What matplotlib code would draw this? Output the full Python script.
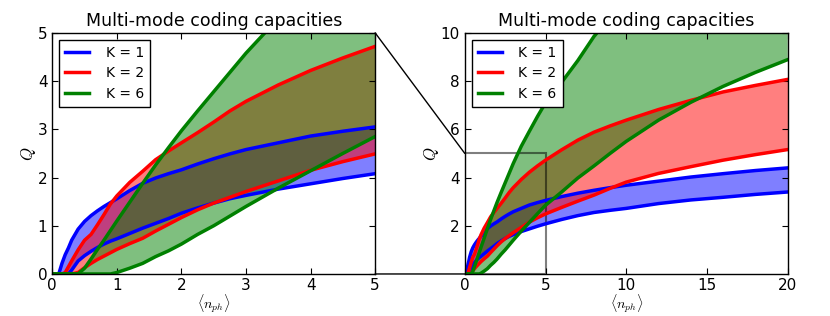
import matplotlib; matplotlib.use('Agg')
import matplotlib.pyplot as plt
from matplotlib.patches import Rectangle, ConnectionPatch

plt.rcParams.update({
    'font.family': 'DejaVu Sans', 'font.size': 11, 'mathtext.fontset': 'cm',
    'xtick.direction': 'in', 'ytick.direction': 'in',
    'xtick.top': True, 'ytick.right': True,
    'xtick.major.size': 4, 'ytick.major.size': 4,
    'xtick.major.pad': 3,
    'xtick.labelsize': 11, 'ytick.labelsize': 11,
    'axes.linewidth': 1.0,
})

# mean photon number grid
n_ph = [0, 0.1, 0.15, 0.2, 0.25, 0.3, 0.4, 0.5, 0.6, 0.7, 0.8, 0.9, 1.0, 1.2, 1.4, 1.6,
        1.8, 2.0, 2.25, 2.5, 2.75, 3.0, 3.5, 4.0, 4.5, 5.0, 6, 7, 8, 9, 10, 12, 14, 16, 18, 20]

# K = 1 bounds
k1_hi = [0, 0, 0.22, 0.40, 0.54, 0.70, 0.93, 1.09, 1.21, 1.31, 1.40, 1.48, 1.56, 1.73, 1.88, 1.99,
         2.08, 2.16, 2.28, 2.39, 2.49, 2.58, 2.72, 2.86, 2.96, 3.05, 3.21, 3.35, 3.47, 3.58, 3.68,
         3.85, 4.02, 4.16, 4.29, 4.40]
k1_lo = [0, 0, 0, 0, 0, 0.08, 0.27, 0.38, 0.47, 0.55, 0.62, 0.68, 0.73, 0.84, 0.95, 1.05,
         1.15, 1.26, 1.37, 1.47, 1.56, 1.63, 1.76, 1.87, 1.98, 2.08, 2.26, 2.42, 2.55, 2.64, 2.72,
         2.92, 3.07, 3.18, 3.30, 3.40]
# K = 2 bounds
k2_hi = [0, 0, 0, 0.03, 0.15, 0.27, 0.50, 0.70, 0.82, 1.02, 1.23, 1.45, 1.62, 1.90, 2.13, 2.37,
         2.55, 2.72, 2.93, 3.15, 3.38, 3.58, 3.92, 4.22, 4.48, 4.72, 5.15, 5.55, 5.88, 6.14, 6.38,
         6.82, 7.20, 7.55, 7.82, 8.07]
k2_lo = [0, 0, 0, 0, 0, 0, 0.03, 0.13, 0.22, 0.30, 0.37, 0.44, 0.51, 0.63, 0.74, 0.89,
         1.03, 1.17, 1.33, 1.47, 1.59, 1.71, 1.93, 2.15, 2.33, 2.49, 2.76, 3.02, 3.27, 3.55, 3.81,
         4.17, 4.45, 4.72, 4.95, 5.16]
# K = 6 bounds
k6_hi = [0, 0, 0, 0, 0, 0, 0, 0.12, 0.31, 0.51, 0.70, 0.90, 1.10, 1.49, 1.88, 2.26,
         2.62, 2.97, 3.38, 3.78, 4.18, 4.58, 5.30, 5.92, 6.53, 7.10, 7.95, 8.85, 9.85, 10.65, 11.4,
         12.8, 14.1, 15.3, 16.4, 17.4]
k6_lo = [0, 0, 0, 0, 0, 0, 0, 0, 0, 0, 0, 0, 0.03, 0.12, 0.22, 0.36,
         0.48, 0.62, 0.82, 1.00, 1.20, 1.40, 1.78, 2.14, 2.50, 2.85, 3.40, 3.98, 4.48, 5.00, 5.50,
         6.38, 7.12, 7.78, 8.36, 8.89]

bands = [('K = 1', k1_lo, k1_hi, 'b'), ('K = 2', k2_lo, k2_hi, 'r'), ('K = 6', k6_lo, k6_hi, 'g')]

fig = plt.figure(figsize=(8.3, 3.16), dpi=100)
ax1 = fig.add_axes([0.063, 0.133, 0.389, 0.763])
ax2 = fig.add_axes([0.560, 0.133, 0.389, 0.763])

for ax in (ax1, ax2):
    for label, lo, hi, c in bands:
        ax.plot(n_ph, hi, color=c, lw=2.5, label=label)
        ax.plot(n_ph, lo, color=c, lw=2.5)
        ax.fill_between(n_ph, lo, hi, color=c, alpha=0.5, lw=0)
    ax.set_title('Multi-mode coding capacities', fontsize=12.5, pad=5)
    ax.set_xlabel(r'$\langle n_{ph}\rangle$', fontsize=10, labelpad=-1)
    ax.set_ylabel(r'$Q$', fontsize=12, labelpad=0)
    ax.legend(loc='upper left', fancybox=False, edgecolor='black', framealpha=1,
              handlelength=1.7, handletextpad=1.2, labelspacing=0.45,
              borderaxespad=0.5, borderpad=0.45, fontsize=10)

ax1.set_xlim(0, 5)
ax1.set_ylim(0, 5)
ax2.set_xlim(0, 20)
ax2.set_ylim(0, 10)
ax2.set_yticks([2, 4, 6, 8, 10])

# zoom region marker
ax2.add_patch(Rectangle((0, 0), 5, 5, fill=False, edgecolor='black', alpha=0.5, lw=1.5))
for ya, yb in [((5, 5), (0, 5)), ((5, 0), (0, 0))]:
    con = ConnectionPatch(xyA=ya, coordsA=ax1.transData, xyB=yb, coordsB=ax2.transData,
                          color='black', lw=1)
    fig.add_artist(con)

fig.savefig('out.png', dpi=100)
